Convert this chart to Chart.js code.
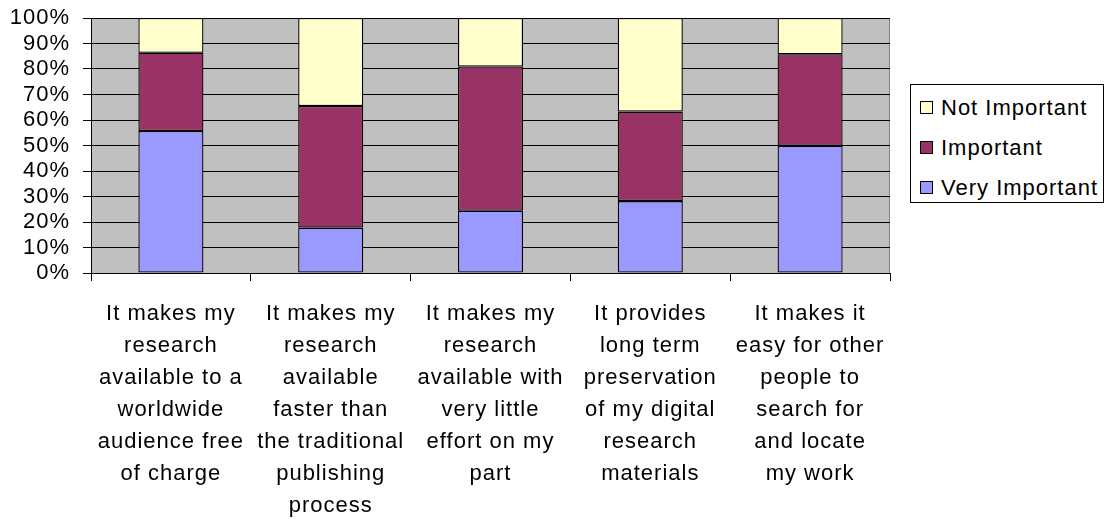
<!DOCTYPE html>
<html>
<head>
<meta charset="utf-8">
<script src="https://cdn.jsdelivr.net/npm/chart.js@4/dist/chart.umd.min.js"></script>
<style>
  html, body { margin: 0; padding: 0; background: #fff; }
  #wrap { position: relative; width: 1114px; height: 519px; }
  #legend {
    position: absolute; left: 910px; top: 84px; width: 192px; height: 117px;
    border: 1px solid #000; background: #fff; box-sizing: content-box;
    font-family: "Liberation Sans", Arial, sans-serif; font-size: 22px; letter-spacing: 1px; color: #000;
  }
  .item { position: absolute; left: 9px; height: 24px; line-height: 24px; white-space: nowrap; }
  .sw { display: inline-block; width: 11px; height: 11px; border: 1px solid #000; vertical-align: middle; margin-right: 8px; position: relative; top: -2px; }
</style>
</head>
<body>
<div id="wrap">
  <canvas id="c" width="1114" height="519"></canvas>
  <div id="legend"></div>
</div>
<script>
const categories = [
  ["It makes my","research","available to a","worldwide","audience free","of charge"],
  ["It makes my","research","available","faster than","the traditional","publishing","process"],
  ["It makes my","research","available with","very little","effort on my","part"],
  ["It provides","long term","preservation","of my digital","research","materials"],
  ["It makes it","easy for other","people to","search for","and locate","my work"]
];
const seriesNames = ["Very Important", "Important", "Not Important"];
const veryImportant = [55.7, 17.8, 24.4, 28.2, 49.9];
const important     = [30.7, 47.7, 56.6, 35.1, 35.9];
const notImportant  = [13.6, 34.5, 19.0, 36.7, 14.2];
const seriesColors = ["#9999FF", "#993366", "#FFFFCC"];
const yTicks = [0,10,20,30,40,50,60,70,80,90,100];

const FONT = { family: '"Liberation Sans", Arial, sans-serif', size: 22 };
const LS = '1px';

const plotBg = {
  id: 'plotBg',
  beforeDraw(chart) {
    const {ctx, chartArea: a} = chart;
    ctx.letterSpacing = LS;
    ctx.save();
    ctx.fillStyle = '#C0C0C0';
    ctx.fillRect(a.left, a.top, a.right - a.left, a.bottom - a.top);
    ctx.strokeStyle = '#808080';
    ctx.lineWidth = 1;
    ctx.strokeRect(a.left + 0.5, a.top + 0.5, a.right - a.left - 1, a.bottom - a.top);
    ctx.restore();
  }
};

const spacing = {
  id: 'spacing',
  beforeInit(chart) { chart.ctx.letterSpacing = LS; },
  beforeUpdate(chart) { chart.ctx.letterSpacing = LS; },
  beforeLayout(chart) { chart.ctx.letterSpacing = LS; },
  beforeDatasetsDraw(chart) { chart.ctx.letterSpacing = LS; }
};

const allSeries = [veryImportant, important, notImportant];
const chart = new Chart(document.getElementById('c'), {
  type: 'bar',
  data: {
    labels: categories,
    datasets: allSeries.map((d, i) => ({
      label: seriesNames[i],
      data: d,
      backgroundColor: seriesColors[i],
      borderColor: '#000',
      borderWidth: 1.3,
      borderSkipped: false,
      barPercentage: 0.407,
      categoryPercentage: 1
    }))
  },
  options: {
    responsive: false,
    animation: false,
    devicePixelRatio: 1,
    layout: { padding: { top: 18, right: 224, left: 0, bottom: 0 } },
    plugins: { legend: { display: false }, tooltip: { enabled: false } },
    scales: {
      x: {
        stacked: true,
        grid: { display: true, drawOnChartArea: false, drawTicks: true, tickLength: 8, color: '#000', offset: true },
        border: { color: '#000', width: 1 },
        ticks: { color: '#000', font: { ...FONT, lineHeight: 1.4545 }, maxRotation: 0, autoSkip: false, padding: 17 },
        afterFit(s) { s.height = 246; s.paddingLeft = 0; s.paddingRight = 0; }
      },
      y: {
        stacked: true,
        min: 0, max: 100,
        afterBuildTicks(s) { s.ticks = yTicks.map(v => ({ value: v })); },
        grid: { color: '#000', tickLength: 8, lineWidth: 1 },
        border: { color: '#000', width: 1 },
        ticks: { color: '#000', font: FONT, padding: 13, autoSkip: false, callback: v => v + '%' },
        afterFit(s) { s.width = 91; s.paddingTop = 0; s.paddingBottom = 0; }
      }
    }
  },
  plugins: [spacing, plotBg]
});

// legend (reverse order, like the reference)
const lg = document.getElementById('legend');
const tops = [11, 51, 91];
[2, 1, 0].forEach((idx, k) => {
  const it = document.createElement('div');
  it.className = 'item';
  it.style.top = tops[k] + 'px';
  it.innerHTML = '<span class="sw" style="background:' + seriesColors[idx] + '"></span>' + seriesNames[idx];
  lg.appendChild(it);
});
</script>
</body>
</html>
